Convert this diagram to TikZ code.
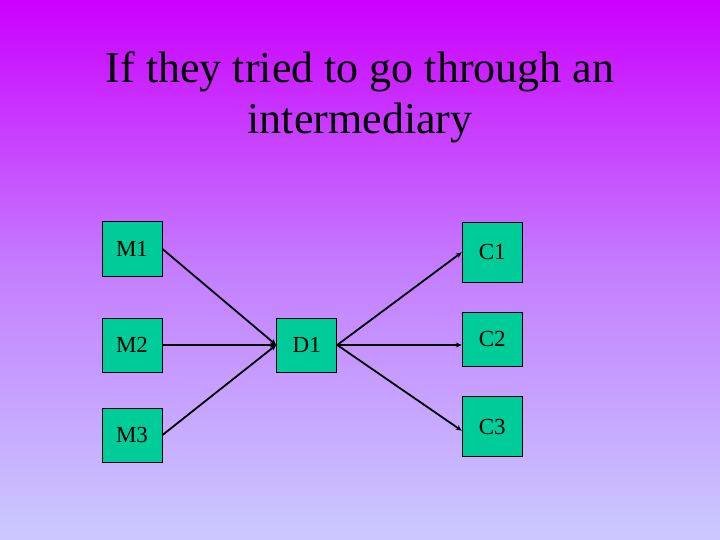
\documentclass[tikz,border=0pt]{standalone}
\usepackage{fontspec}
\setmainfont{Liberation Serif}
\usetikzlibrary{arrows.meta,calc}
\definecolor{bgtop}{HTML}{CC00FF}
\definecolor{bgmid}{HTML}{C47EFF}
\definecolor{bgbot}{HTML}{CACAFF}
\definecolor{boxfill}{HTML}{00CC99}
\tikzset{
  box/.style={draw=black, line width=1pt, fill=boxfill, minimum width=60pt, minimum height=54pt, inner sep=0pt, font=\fontsize{23}{27}\selectfont},
  tall/.style={minimum height=60pt},
  conn/.style={line width=1.8pt, -{Stealth[length=6pt,width=5pt]}}
}
\begin{document}
\begin{tikzpicture}[x=1pt,y=-1pt]
\useasboundingbox (0,0) rectangle (720,540);
\shade[top color=bgtop, bottom color=bgbot, middle color=bgmid] (0,0) rectangle (720,540);
\node[align=center, font=\fontsize{44}{51}\selectfont, anchor=base] (title) at (360,134) {If they tried to go through an\\intermediary};
\node[box] (M1) at (132,249) {M1};
\node[box] (M2) at (132,345) {M2};
\node[box] (M3) at (132,435) {M3};
\node[box] (D1) at (306.7,345) {D1};
\node[box,tall] (C1) at (492.3,252.3) {C1};
\node[box] (C2) at (492.3,339) {C2};
\node[box,tall] (C3) at (492.3,426.7) {C3};
\draw[conn] (M1.east) -- (D1.west);
\draw[conn] (M2.east) -- (D1.west);
\draw[conn] (M3.east) -- (D1.west);
\draw[conn] (D1.east) -- (C1.west);
\draw[conn] (D1.east) -- (D1.east -| C2.west);
\draw[conn] (D1.east) -- ($(C3.west)+(0,4)$);
\end{tikzpicture}
\end{document}
